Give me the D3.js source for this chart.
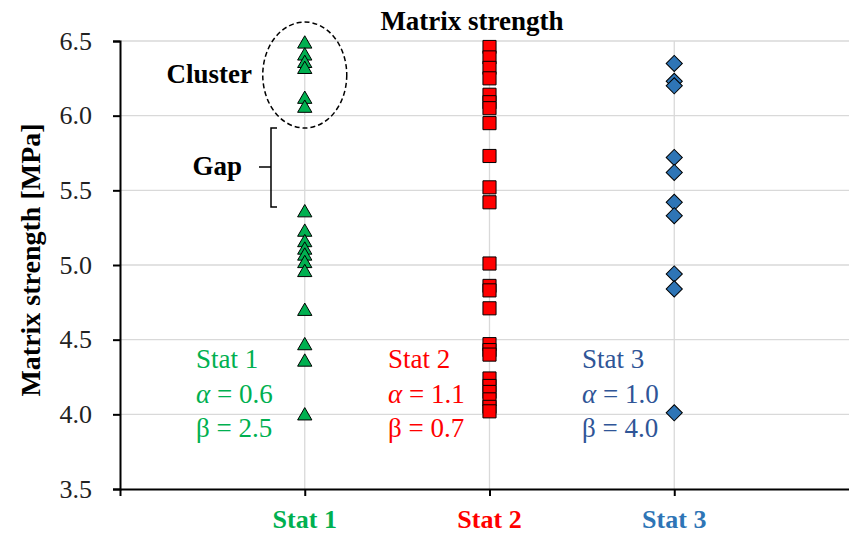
<!DOCTYPE html>
<html>
<head>
<meta charset="utf-8">
<script src="https://cdn.jsdelivr.net/npm/d3@7"></script>
<style>
  body { margin: 0; background: #fff; }
  svg { display: block; }
  text { font-family: "Liberation Serif", "DejaVu Serif", serif; }
</style>
</head>
<body>
<svg id="chart" width="849" height="535"></svg>
<script>
// ---- data ----
const categories = ["Stat 1", "Stat 2", "Stat 3"];
const stat1Values = [6.48, 6.40, 6.35, 6.31, 6.11, 6.05, 5.35, 5.22, 5.15, 5.10, 5.06, 5.01, 4.95, 4.69, 4.46, 4.35, 3.99];
const stat2Values = [6.46, 6.39, 6.32, 6.25, 6.14, 6.09, 6.05, 5.95, 5.73, 5.52, 5.42, 5.01, 4.86, 4.83, 4.71, 4.47, 4.43, 4.40, 4.24, 4.19, 4.15, 4.10, 4.05, 4.02];
const stat3Values = [6.35, 6.23, 6.20, 5.72, 5.62, 5.42, 5.33, 4.94, 4.84, 4.01];
const alphaValues = ["0.6", "1.1", "1.0"];
const betaValues = ["2.5", "0.7", "4.0"];
const yTicks = [3.5, 4.0, 4.5, 5.0, 5.5, 6.0, 6.5];
const seriesColors = ["#00B050", "#FF0000", "#2E75B6"];
const annotColors = ["#00B050", "#FF0000", "#2F5597"];

const svg = d3.select("#chart");
const x = d3.scaleLinear().domain([0, 4]).range([120, 859]);
const y = d3.scaleLinear().domain([3.5, 6.5]).range([489, 41]);

// grid
const grid = svg.append("g");
grid.selectAll("line.h").data(yTicks.filter(d => d > 3.5)).enter().append("line")
  .attr("x1", 120).attr("x2", 849).attr("y1", d => y(d)).attr("y2", d => y(d))
  .attr("stroke", "#d9d9d9").attr("stroke-width", 1.3);
grid.selectAll("line.v").data(categories).enter().append("line")
  .attr("x1", (d, i) => x(i + 1)).attr("x2", (d, i) => x(i + 1))
  .attr("y1", y(6.5)).attr("y2", y(3.5))
  .attr("stroke", "#d9d9d9").attr("stroke-width", 1.3);

// axes
const yAxis = d3.axisLeft(y).tickValues(yTicks).tickFormat(d3.format(".1f")).tickSize(7).tickPadding(21);
const gy = svg.append("g").attr("transform", "translate(120,0)").call(yAxis);
gy.select(".domain").attr("stroke", "#000").attr("stroke-width", 2);
gy.selectAll(".tick line").attr("stroke", "#000").attr("stroke-width", 2);
gy.selectAll(".tick text").attr("font-size", 26).attr("fill", "#222").attr("font-family", "Liberation Serif, serif");

const xAxis = d3.axisBottom(x).tickValues([0, 1, 2, 3]).tickFormat("").tickSize(7).tickSizeOuter(0);
const gx = svg.append("g").attr("transform", "translate(0,489)").call(xAxis);
gx.select(".domain").attr("stroke", "#000").attr("stroke-width", 2);
gx.selectAll(".tick line").attr("stroke", "#000").attr("stroke-width", 2);

// x category labels
svg.selectAll("text.xl").data(categories).enter().append("text")
  .attr("x", (d, i) => x(i + 1)).attr("y", 528)
  .attr("text-anchor", "middle").attr("font-size", 26).attr("font-weight", "bold")
  .attr("fill", (d, i) => seriesColors[i]).text(d => d);

// y axis title
svg.append("text").attr("transform", "translate(40,260) rotate(-90)")
  .attr("text-anchor", "middle").attr("font-size", 28).attr("font-weight", "bold")
  .attr("fill", "#000").text("Matrix strength [MPa]");

// chart title
svg.append("text").attr("x", 472).attr("y", 30).attr("text-anchor", "middle")
  .attr("font-size", 27).attr("font-weight", "bold").attr("fill", "#000").text("Matrix strength");

// markers
const g1 = svg.append("g");
g1.selectAll("path").data(stat1Values).enter().append("path")
  .attr("d", d3.symbol().type(d3.symbolTriangle).size(88))
  .attr("transform", d => `translate(${x(1)},${y(d)})`)
  .attr("fill", seriesColors[0]).attr("stroke", "#000").attr("stroke-width", 1);
const g2 = svg.append("g");
g2.selectAll("path").data(stat2Values).enter().append("path")
  .attr("d", d3.symbol().type(d3.symbolSquare).size(172))
  .attr("transform", d => `translate(${x(2)},${y(d)})`)
  .attr("fill", seriesColors[1]).attr("stroke", "#000").attr("stroke-width", 1);
const g3 = svg.append("g");
g3.selectAll("path").data(stat3Values).enter().append("path")
  .attr("d", d3.symbol().type(d3.symbolSquare).size(130))
  .attr("transform", d => `translate(${x(3)},${y(d)}) rotate(45)`)
  .attr("fill", seriesColors[2]).attr("stroke", "#000").attr("stroke-width", 1);

// stat annotations
const annX = [196, 388, 582];
categories.forEach((c, i) => {
  const t = svg.append("g").attr("fill", annotColors[i]).attr("font-size", 27);
  t.append("text").attr("x", annX[i]).attr("y", 368).text(c);
  const a = t.append("text").attr("x", annX[i]).attr("y", 403);
  a.append("tspan").attr("font-style", "italic").text("α");
  a.append("tspan").text(" = " + alphaValues[i]);
  t.append("text").attr("x", annX[i]).attr("y", 437).text("β = " + betaValues[i]);
});

// cluster ellipse & label
svg.append("ellipse").attr("cx", x(1)).attr("cy", 75).attr("rx", 42).attr("ry", 53)
  .attr("fill", "none").attr("stroke", "#000").attr("stroke-width", 1.5).attr("stroke-dasharray", "5,3");
svg.append("text").attr("x", 252).attr("y", 83).attr("text-anchor", "end")
  .attr("font-size", 27).attr("font-weight", "bold").attr("fill", "#000").text("Cluster");

// gap bracket & label
svg.append("path").attr("d", "M277,128 H271 V207 H277 M271,167 H259")
  .attr("fill", "none").attr("stroke", "#000").attr("stroke-width", 1.5);
svg.append("text").attr("x", 242).attr("y", 175).attr("text-anchor", "end")
  .attr("font-size", 27).attr("font-weight", "bold").attr("fill", "#000").text("Gap");
</script>
</body>
</html>
